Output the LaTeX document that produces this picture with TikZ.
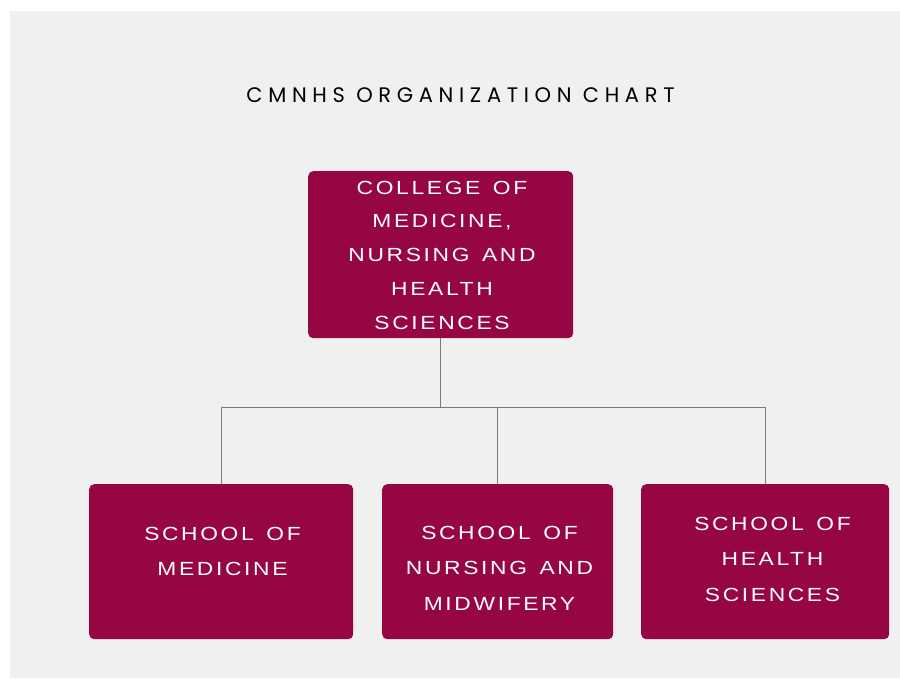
\documentclass[tikz,border=0pt]{standalone}
\usepackage{fontspec}
\setmainfont{Liberation Sans}
\newfontfamily\boxfont[LetterSpace=14,FakeStretch=1.2,WordSpace=1.4]{Liberation Sans}
\newfontfamily\titlefont[LetterSpace=27]{Poppins}
\definecolor{bgcol}{HTML}{F0F0F0}
\definecolor{crimson}{RGB}{150,6,69}
\definecolor{linegray}{HTML}{7A7A7A}
\begin{document}
\begin{tikzpicture}[x=1pt,y=-1pt,
  unitbox/.style={fill=crimson, rounded corners=5pt, inner sep=0pt, anchor=north west},
  lbl/.style={text=white, font=\boxfont\fontsize{19}{35.5}\selectfont, align=center, inner sep=0pt, anchor=north},
  lbltop/.style={lbl, font=\boxfont\fontsize{19}{33.75}\selectfont},
  conn/.style={draw=linegray, line width=1pt}]
\useasboundingbox (0,0) rectangle (900,678);
\fill[bgcol] (10,11) rectangle (900,678);
\node[font=\titlefont\fontsize{21}{25}\selectfont, anchor=base, inner sep=0pt] (title) at (460.5,102.7) {CMNHS ORGANIZATION CHART};
% boxes
\node[unitbox, minimum width=265pt, minimum height=167pt] (top) at (308,171) {};
\node[unitbox, minimum width=264pt, minimum height=155pt] (b1) at (89,484) {};
\node[unitbox, minimum width=231pt, minimum height=155pt] (b2) at (382,484) {};
\node[unitbox, minimum width=248pt, minimum height=155pt] (b3) at (641,484) {};
% labels
\node[lbltop] (ttop) at (442,180.7) {COLLEGE OF\\MEDICINE,\\NURSING AND\\HEALTH\\SCIENCES};
\node[lbl] (t1) at (222.5,526.7) {SCHOOL OF\\MEDICINE};
\node[lbl] (t2) at (499.5,525.7) {SCHOOL OF\\NURSING AND\\MIDWIFERY};
\node[lbl] (t3) at (772.5,516.7) {SCHOOL OF\\HEALTH\\SCIENCES};
% connectors
\coordinate (bus) at (0,407);
\draw[conn] (top.south) -- (top.south |- bus);
\draw[conn] (b1.north) -- (b1.north |- bus) -- (b3.north |- bus) -- (b3.north);
\draw[conn] (b2.north) -- (b2.north |- bus);
\end{tikzpicture}
\end{document}
